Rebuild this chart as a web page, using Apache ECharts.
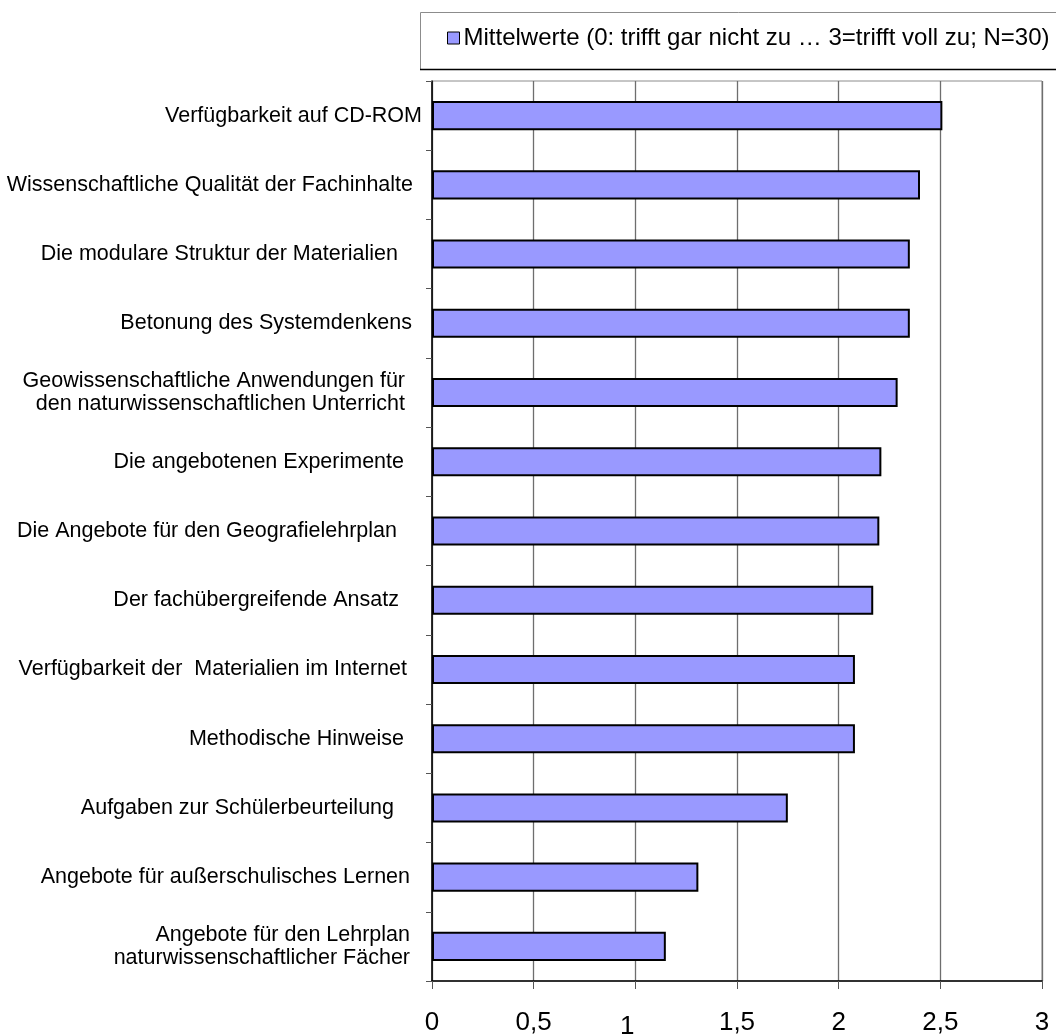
<!DOCTYPE html>
<html>
<head>
<meta charset="utf-8">
<script src="https://cdn.jsdelivr.net/npm/echarts@6/dist/echarts.min.js"></script>
<style>
  html, body { margin: 0; padding: 0; background: #fff; }
  #chart { width: 1056px; height: 1035px; }
</style>
</head>
<body>
<div id="chart"></div>
<script>
// Survey items (top to bottom)
const categories = [
  'Verfügbarkeit auf CD-ROM',
  'Wissenschaftliche Qualität der Fachinhalte',
  'Die modulare Struktur der Materialien',
  'Betonung des Systemdenkens',
  'Geowissenschaftliche Anwendungen für\nden naturwissenschaftlichen Unterricht',
  'Die angebotenen Experimente',
  'Die Angebote für den Geografielehrplan',
  'Der fachübergreifende Ansatz',
  'Verfügbarkeit der  Materialien im Internet',
  'Methodische Hinweise',
  'Aufgaben zur Schülerbeurteilung',
  'Angebote für außerschulisches Lernen',
  'Angebote für den Lehrplan\nnaturwissenschaftlicher Fächer'
];

// Mean ratings (0 = trifft gar nicht zu ... 3 = trifft voll zu)
const means = [2.51, 2.40, 2.35, 2.35, 2.29, 2.21, 2.20, 2.17, 2.08, 2.08, 1.75, 1.31, 1.15];

const seriesName = 'Mittelwerte (0: trifft gar nicht zu … 3=trifft voll zu; N=30)';

// Value axis ticks
const xMin = 0, xMax = 3, xStep = 0.5;

// Extra right-hand gap of each category label (px), as laid out in the sheet
const labelGap = [0, 9, 24, 10, 17, 18, 25, 23, 15, 18, 28, 12, 12];

const FONT = '"Liberation Sans", Arial, Helvetica, sans-serif';

const rich = {};
labelGap.forEach((g, i) => {
  rich['c' + i] = { fontFamily: FONT, fontSize: 21.5, lineHeight: 23, color: '#000', padding: [0, g, 0, 0], align: 'right' };
});

const chart = echarts.init(document.getElementById('chart'), null, { renderer: 'canvas' });

chart.setOption({
  animation: false,
  backgroundColor: '#fff',
  textStyle: { fontFamily: FONT },
  graphic: [
    // legend frame
    { type: 'rect', left: 420, top: 12, shape: { x: 0, y: 0, width: 650, height: 57 },
      style: { fill: '#fff', stroke: '#8c8c8c', lineWidth: 1 }, z: 0 },
    { type: 'line', shape: { x1: 420, y1: 69.5, x2: 1056, y2: 69.5 },
      style: { stroke: '#000', lineWidth: 1.5 }, z: 1 }
  ],
  legend: {
    data: [seriesName],
    left: 447,
    top: 26,
    padding: 0,
    itemWidth: 12,
    itemHeight: 12,
    itemGap: 6,
    icon: 'rect',
    itemStyle: { borderColor: '#000', borderWidth: 1 },
    textStyle: { fontFamily: FONT, fontSize: 24, color: '#000', padding: [0, 0, 0, -1] },
    z: 5
  },
  grid: {
    left: 432,
    right: 14,
    top: 81,
    bottom: 54,
    show: true,
    borderColor: '#8c8c8c',
    borderWidth: 1,
    containLabel: false,
    outerBoundsMode: 'none'
  },
  xAxis: {
    type: 'value',
    min: xMin,
    max: xMax,
    interval: xStep,
    axisLine: { show: true, lineStyle: { color: '#000', width: 1.5 } },
    axisTick: { show: true, length: 8, lineStyle: { color: '#555', width: 1 } },
    splitLine: { show: true, lineStyle: { color: '#6e6e6e', width: 1.3 } },
    axisLabel: {
      margin: 29,
      fontFamily: FONT,
      fontSize: 26,
      color: '#000',
      formatter: v => (v === 1 ? '{low|1}' : String(v).replace('.', ',')),
      rich: {
        low: { fontFamily: FONT, fontSize: 26, color: '#000', padding: [4, 16, 0, 0] }
      }
    }
  },
  yAxis: {
    type: 'category',
    data: categories,
    inverse: true,
    axisLine: { show: true, lineStyle: { color: '#000', width: 1.5 } },
    axisTick: { show: true, inside: false, length: 6, lineStyle: { color: '#555', width: 1 } },
    splitLine: { show: false },
    axisLabel: {
      margin: 10,
      interval: 0,
      align: 'right',
      formatter: (value, idx) => value.split('\n').map(line => '{c' + idx + '|' + line + '}').join('\n'),
      rich: rich
    }
  },
  series: [{
    name: seriesName,
    type: 'bar',
    data: means,
    barCategoryGap: '58%',
    itemStyle: { color: '#9999FF', borderColor: '#000', borderWidth: 2 },
    emphasis: { disabled: true }
  }]
});
</script>
</body>
</html>
